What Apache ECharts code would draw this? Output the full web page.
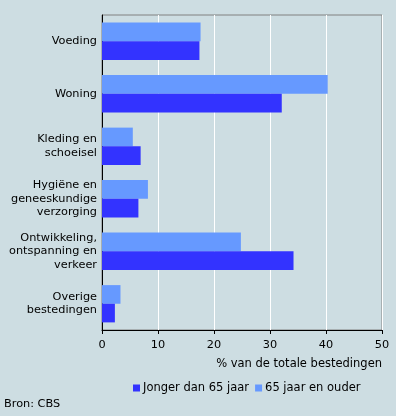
<!DOCTYPE html>
<html><head><meta charset="utf-8">
<script src="https://cdn.jsdelivr.net/npm/echarts@6/dist/echarts.min.js"></script>
<style>html,body{margin:0;padding:0;background:#cddde2}#c{width:396px;height:416px}</style>
</head><body><div id="c"></div>
<script>
const categories = ["Voeding", "Woning", "Kleding en\nschoeisel", "Hygiëne en\ngeneeskundige\nverzorging", "Ontwikkeling,\nontspanning en\nverkeer", "Overige\nbestedingen"];
const jonger = [17.4, 32.1, 6.9, 6.5, 34.2, 2.3];
const ouder = [17.6, 40.3, 5.5, 8.2, 24.8, 3.3];
const seriesNames = ["Jonger dan 65 jaar", "65 jaar en ouder"];
const xTicks = [0, 10, 20, 30, 40, 50];

const font = "DejaVu Sans";
const chart = echarts.init(document.getElementById('c'));
chart.setOption({
  backgroundColor: '#cddde2',
  animation: false,
  textStyle: {fontFamily: font, fontSize: 11, color: '#000'},
  grid: {left: 102, right: 14, top: 15, bottom: 86, show: true, borderColor: '#808080', borderWidth: 1, backgroundColor: 'transparent'},
  xAxis: {
    type: 'value', min: xTicks[0], max: xTicks[xTicks.length-1], interval: 10,
    axisLine: {show: true, onZero: false, lineStyle: {color: '#000', width: 1}},
    axisTick: {show: true, length: 4, lineStyle: {color: '#000'}},
    axisLabel: {fontFamily: font, fontSize: 11.3, color: '#000', margin: 10},
    splitLine: {show: true, lineStyle: {color: '#ffffff', width: 1}}
  },
  yAxis: {
    type: 'category', data: categories, inverse: true,
    axisLine: {show: true, lineStyle: {color: '#000', width: 1}},
    axisTick: {show: false},
    axisLabel: {fontFamily: font, fontSize: 11.3, color: '#000', lineHeight: 13.5, margin: 5, align: 'right'}
  },
  legend: {
    data: seriesNames, left: 133, top: 382, padding: 0, icon: 'rect', itemWidth: 7, itemHeight: 7, itemGap: 6,
    textStyle: {fontFamily: font, fontSize: 11.5, color: '#000', padding: [0,0,0,-2]}
  },
  graphic: [
    {type: 'text', right: 14, top: 358, style: {text: '% van de totale bestedingen', font: '11.5px "DejaVu Sans"', fill: '#000'}},
    {type: 'text', left: 4, top: 399, style: {text: 'Bron: CBS', font: '11.3px "DejaVu Sans"', fill: '#000'}}
  ],
  series: [
    {name: seriesNames[1], type: 'bar', data: ouder, itemStyle: {color: '#6699ff'}, barGap: '0%', barCategoryGap: '29%'},
    {name: seriesNames[0], type: 'bar', data: jonger, itemStyle: {color: '#3333ff'}, barGap: '0%', barCategoryGap: '29%'}
  ]
});
</script></body></html>
